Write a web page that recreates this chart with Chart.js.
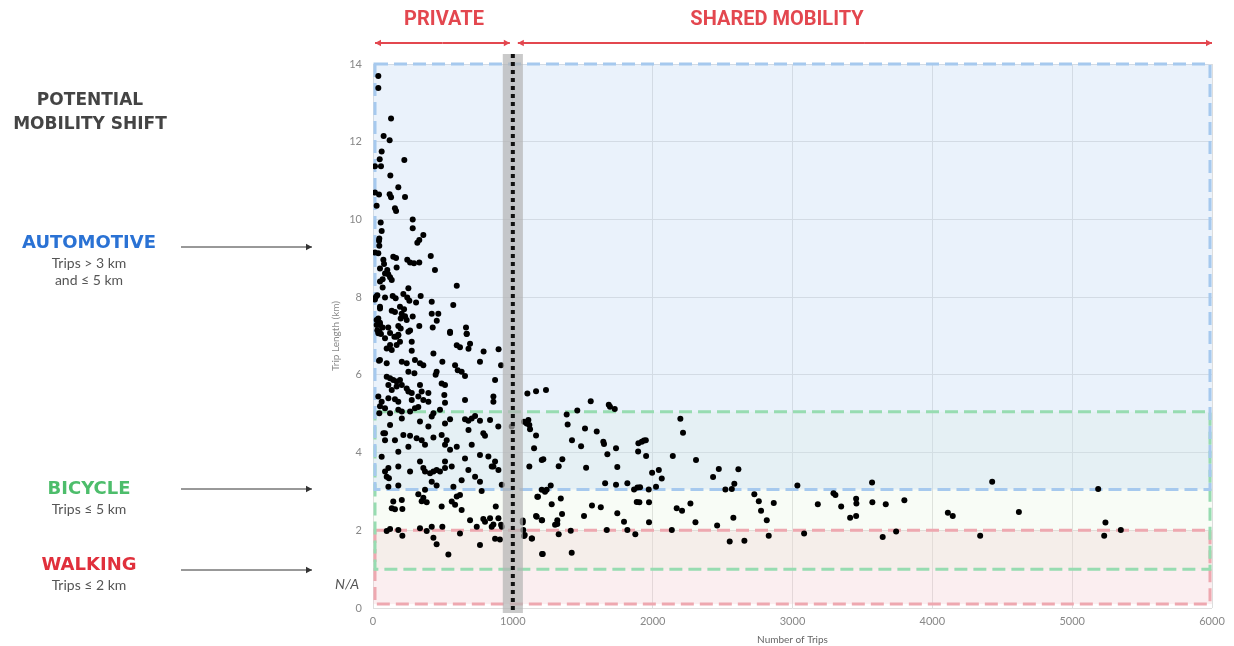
<!DOCTYPE html>
<html lang="en">
<head>
    <meta charset="UTF-8">
    <title>Potential Mobility Shift</title>
    <script src="https://cdn.jsdelivr.net/npm/chart.js"></script>
    <style>
        body {
            margin: 0;
            background: #fff;
        }
        #wrap {
            width: 1234px;
            height: 646px;
        }
    </style>
</head>
<body>
    <div id="wrap"><canvas id="shiftChart" width="1234" height="646"></canvas></div>

    <script>
        // [number of trips, trip length km]
        const longTrips = [
            [38,13.69],[38,13.38],[129,12.60],[76,12.15],[119,12.04],[62,11.75],[48,11.55],[224,11.53],
            [14,11.37],[57,11.37],[124,11.13],[181,10.83],[14,10.69],[43,10.64],[119,10.65],[129,10.57],
            [229,10.58],[26,10.35],[157,10.29],[165,10.22],[55,9.92],[284,10.00],[62,9.70],[45,9.51],
            [43,9.45],[284,9.77],[360,9.60],[331,9.47],[317,9.40],[45,9.32],[14,9.15],[38,9.13],
            [145,9.04],[165,9.01],[413,9.06],[245,8.96],[265,8.89],[293,8.87],[331,8.89],[74,8.96],
            [79,8.85],[50,8.74],[102,8.70],[86,8.61],[109,8.59],[169,8.76],[443,8.70],[69,8.46],
            [122,8.51],[50,8.40],[599,8.29],[134,8.44],[69,8.25],[253,8.23],[21,8.01],[14,7.94],
            [31,8.05],[86,7.99],[141,8.03],[162,7.97],[217,8.08],[245,7.99],[260,7.91],[341,8.03],
            [308,7.86],[420,7.88],[574,7.80],[50,7.71],[134,7.65],[157,7.62],[193,7.75],[222,7.69],
            [205,7.57],[229,7.51],[198,7.45],[284,7.50],[241,7.41],[420,7.57],[467,7.57],[456,7.39],
            [38,7.45],[50,7.34],[26,7.28],[69,7.22],[31,7.15],[109,7.22],[181,7.26],[198,7.19],
            [331,7.26],[427,7.22],[551,7.11],[665,7.22],[670,7.05],[265,7.14],[181,7.03],[169,6.98],
            [50,7.75],[26,7.41],[50,7.28],[45,7.11],[38,7.07]
        ];

        const mediumTrips = [
            [57,7.05],[86,6.94],[122,7.08],[153,6.98],[181,7.02],[193,6.85],[169,6.77],[122,6.77],
            [98,6.68],[134,6.64],[277,6.85],[253,7.11],[551,7.08],[670,7.06],[694,6.80],[622,6.71],
            [599,6.76],[683,6.67],[791,6.60],[898,6.66],[432,6.55],[277,6.62],
            [43,6.36],[98,6.30],[206,6.34],[241,6.30],[300,6.38],[336,6.30],[360,6.25],[253,6.08],
            [296,6.04],[496,6.34],[455,6.08],[448,6.00],[587,6.25],[606,6.12],[634,6.08],[658,5.97],
            [765,6.34],[916,6.25],[873,5.87],[50,6.38],
            [98,5.95],[122,5.91],[145,5.87],[169,5.83],[193,5.87],[206,5.74],[110,5.74],[134,5.61],
            [169,5.70],[241,5.65],[253,5.57],[277,5.53],[336,5.74],[348,5.57],[396,5.53],[324,5.44],
            [277,5.35],[360,5.35],[396,5.31],[491,5.78],[515,5.74],[510,5.48],[515,5.28],[658,5.35],
            [861,5.44],[861,5.31],[62,5.31],[110,5.40],[157,5.37],[181,5.31],[38,5.44],[50,5.19],
            [86,5.14],[122,5.01],[181,5.10],[206,5.06],[265,5.06],[300,5.14],[324,5.17],[432,5.01],
            [420,4.93],[479,5.10],[551,4.86],[658,4.86],[682,4.82],[706,4.88],[730,4.94],[765,4.82],
            [837,4.84],[896,4.67],[992,4.67],[122,4.71],[206,4.88],[336,4.80],[396,4.67],[515,4.75],
            [45,5.01]
        ];

        const shortTrips = [
            [86,4.50],[157,4.32],[217,4.45],[265,4.43],[312,4.37],[253,4.15],[181,4.02],[348,4.32],
            [372,4.20],[432,4.39],[491,4.45],[527,4.32],[515,4.20],[551,4.07],[599,4.15],[683,4.58],
            [706,4.20],[789,4.50],[801,4.43],[765,3.94],[825,3.90],[873,3.77],[658,3.85],[515,3.77],
            [336,3.77],[181,3.64],[110,3.60],[861,3.64],[74,4.50],[86,4.32],[62,3.89],
            [86,3.51],[114,3.34],[265,3.51],[360,3.60],[372,3.51],[408,3.47],[432,3.51],[455,3.55],
            [479,3.51],[515,3.60],[563,3.64],[682,3.55],[730,3.38],[765,3.25],[634,3.29],[420,3.25],
            [455,3.15],[575,3.12],[777,3.01],[921,3.17],[897,3.55],[849,3.64],[181,3.15],[372,3.04],
            [98,3.38],[110,3.12],
            [145,2.74],[206,2.78],[157,2.54],[210,2.55],[324,2.93],[360,2.84],[384,2.72],[348,2.75],
            [491,2.61],[563,2.74],[599,2.87],[622,2.91],[587,2.66],[634,2.52],[878,2.61],[694,2.26],
            [789,2.29],[801,2.22],[837,2.31],[861,2.15],[897,2.31],[916,2.14],[873,1.78],[908,1.76],
            [134,2.57],
            [98,1.98],[122,2.03],[181,2.01],[210,1.86],[336,2.05],[384,1.98],[420,2.09],[496,2.09],
            [622,1.92],[742,2.09],[432,1.81],[455,1.64],[765,1.62],[539,1.38],[849,2.09],[921,2.09]
        ];

        const sharedTrips = [
            [1104,5.52],[1166,5.58],[1237,5.61],[1080,4.79],[1099,4.75],[1111,4.84],[1123,4.60],
            [1118,4.71],[1166,4.44],[1152,4.11],[1207,3.81],[1118,3.64],[1207,3.04],[1230,2.99],
            [1242,3.04],[1271,3.15],[1175,2.86],[1278,2.67],[1166,2.37],[1207,2.26],[1318,2.26],
            [1302,2.14],[1318,2.16],[1071,2.20],[1080,1.85],[1137,1.79],[1214,1.39],[1328,1.90],
            [1352,2.42],[1343,2.82],[1328,3.65],[1354,3.83],[1385,4.98],[1392,4.72],[1461,5.08],
            [1423,4.32],[1488,4.16],[1516,4.62],[1524,3.61],[1509,2.37],[1421,1.42],[1414,1.99],
            [1557,5.32],[1600,4.54],[1566,2.64],[1629,2.59],[1647,4.28],[1652,4.22],[1676,3.96],
            [1686,5.23],[1695,5.18],[1729,5.12],[1738,4.11],[1747,3.63],[1660,3.21],[1738,3.17],
            [1747,2.44],[1795,2.22],[1672,2.01],[1819,3.21],[1819,2.01],[1876,1.90],[1867,3.05],
            [1891,3.10],[1910,3.11],[1886,2.73],[1905,2.72],[1896,4.03],[1898,4.24],[1922,4.28],
            [1938,4.31],[1951,4.32],[1953,3.91],[1972,3.05],[1974,2.72],[1974,2.21],[1996,3.48],
            [2044,3.55],[2065,3.33],[2024,3.12],[2144,3.91],[2137,2.01],[2172,2.57],[2210,2.50],
            [2198,4.87],[2217,4.51],[2270,2.69],[2306,2.21],[2310,3.81],[2432,3.37],[2473,3.58],
            [2461,2.12],[2520,3.05],[2566,3.06],[2584,3.20],[2613,3.57],[2577,2.32],[2551,1.71],
            [2656,1.73],[2727,2.93],[2759,2.75],[2775,2.50],[2816,2.26],[2830,1.86],[2866,2.70],
            [3035,3.15],[3083,1.92],[3181,2.67],[3293,2.95],[3307,2.91],[3348,2.61],[3412,2.32],
            [3455,2.37],[3455,2.81],[3457,2.69],[3569,3.23],[3571,2.72],[3667,2.67],[3645,1.83],
            [3741,1.97],[3800,2.77],[4111,2.45],[4146,2.37],[4342,1.86],[4428,3.25],[4619,2.47],
            [5186,3.06],[5238,2.20],[5229,1.86],[5348,2.01],[1071,2.25],[1075,2.01],[1085,1.88],
            [1135,1.79],[1171,2.35],[1209,2.26],[1209,1.39],[1180,2.86],[1218,3.83]
        ];

        // zones: [from km, to km]
        const zoneNames = ['AUTOMOTIVE', 'BICYCLE', 'WALKING'];
        const zoneFrom = [3.05, 1.0, 0.1];
        const zoneTo = [14, 5.05, 2.0];
        const tripsMin = 0;
        const tripsMax = 6000;
        const privateLimit = 1000;

        const xTicks = [0, 1000, 2000, 3000, 4000, 5000, 6000];
        const yTicks = [0, 2, 4, 6, 8, 10, 12, 14];

        const toPoints = arr => arr.map(p => ({ x: p[0], y: p[1] }));

        const zoneFill = ['rgba(190,214,242,0.32)', 'rgba(222,240,214,0.22)', 'rgba(242,200,204,0.3)'];
        const zoneStroke = ['#a6c9ee', '#97dcb1', '#eea8b0'];

        function arrow(ctx, x1, y1, x2, y2, color, width, head) {
            ctx.save();
            ctx.strokeStyle = color;
            ctx.fillStyle = color;
            ctx.lineWidth = width;
            ctx.beginPath();
            ctx.moveTo(x1, y1);
            ctx.lineTo(x2, y2);
            ctx.stroke();
            const dir = x2 > x1 ? 1 : -1;
            ctx.beginPath();
            ctx.moveTo(x2, y2);
            ctx.lineTo(x2 - dir * head, y2 - head * 0.55);
            ctx.lineTo(x2 - dir * head, y2 + head * 0.55);
            ctx.closePath();
            ctx.fill();
            ctx.restore();
        }

        const zonePlugin = {
            id: 'zones',
            beforeDatasetsDraw(chart) {
                const { ctx, scales: { x, y } } = chart;
                const left = x.getPixelForValue(tripsMin);
                const right = x.getPixelForValue(tripsMax);
                ctx.save();
                // fills: walking, bicycle, then automotive on top
                for (let i = zoneNames.length - 1; i >= 0; i--) {
                    const top = y.getPixelForValue(zoneTo[i]);
                    const bottom = y.getPixelForValue(zoneFrom[i]);
                    ctx.fillStyle = zoneFill[i];
                    ctx.fillRect(left, top, right - left, bottom - top);
                }
                ctx.lineWidth = 3;
                ctx.setLineDash([13, 6]);
                for (let i = zoneNames.length - 1; i >= 0; i--) {
                    const top = y.getPixelForValue(zoneTo[i]);
                    const bottom = y.getPixelForValue(zoneFrom[i]);
                    ctx.strokeStyle = zoneStroke[i];
                    ctx.strokeRect(left + 2, top, right - left - 4, bottom - top);
                }
                ctx.restore();
            },
            afterDatasetsDraw(chart) {
                const { ctx, scales: { x, y } } = chart;
                const cx = x.getPixelForValue(privateLimit);
                const bandL = x.getPixelForValue(privateLimit - 72);
                const bandR = x.getPixelForValue(privateLimit + 72);
                const top = y.getPixelForValue(14) - 10;
                const bottom = y.getPixelForValue(0) + 5;
                ctx.save();
                ctx.fillStyle = 'rgba(180,180,180,0.7)';
                ctx.fillRect(bandL, top, bandR - bandL, bottom - top);
                ctx.strokeStyle = '#111';
                ctx.lineWidth = 4;
                ctx.setLineDash([4, 4]);
                ctx.beginPath();
                ctx.moveTo(cx, top);
                ctx.lineTo(cx, bottom);
                ctx.stroke();
                ctx.restore();
            },
            afterDraw(chart) {
                const { ctx, scales: { x, y } } = chart;
                const red = '#e3474f';
                ctx.save();
                // header
                const ay = chart.chartArea.top - 21;
                const x0 = x.getPixelForValue(tripsMin) + 2;
                const xp = x.getPixelForValue(privateLimit) - 3;
                const xs = x.getPixelForValue(privateLimit) + 5;
                const x6 = x.getPixelForValue(tripsMax);
                arrow(ctx, (x0 + xp) / 2, ay, xp, ay, red, 2, 6);
                arrow(ctx, (x0 + xp) / 2, ay, x0, ay, red, 2, 6);
                arrow(ctx, (xs + x6) / 2, ay, x6, ay, red, 2, 6);
                arrow(ctx, (xs + x6) / 2, ay, xs, ay, red, 2, 6);
                ctx.fillStyle = red;
                ctx.textAlign = 'center';
                ctx.textBaseline = 'middle';
                ctx.font = 'bold 20px "Roboto", sans-serif';
                ctx.fillText('PRIVATE', 444, 20);
                ctx.fillText('SHARED MOBILITY', 777, 20);

                // left legend
                ctx.fillStyle = '#444';
                ctx.font = 'bold 17px "DejaVu Sans", sans-serif';
                ctx.fillText('POTENTIAL', 90, 101);
                ctx.fillText('MOBILITY SHIFT', 90, 125);

                const heads = [
                    { color: '#2a72d4', ty: 243, lines: ['Trips > 3 km', 'and \u2264 5 km'], ay: 247 },
                    { color: '#4dbd6b', ty: 489, lines: ['Trips \u2264 5 km'], ay: 489 },
                    { color: '#e0303c', ty: 565, lines: ['Trips \u2264 2 km'], ay: 570 }
                ];
                heads.forEach((h, i) => {
                    ctx.fillStyle = h.color;
                    ctx.font = 'bold 18px "DejaVu Sans", sans-serif';
                    ctx.fillText(zoneNames[i], 89, h.ty);
                    ctx.fillStyle = '#555';
                    ctx.font = '14px "Lato", sans-serif';
                    h.lines.forEach((t, j) => ctx.fillText(t, 89, h.ty + 20 + j * 17));
                    arrow(ctx, 181, h.ay, 312, h.ay, '#333', 1, 6);
                });

                ctx.fillStyle = '#555';
                ctx.font = 'italic 14px "Lato", sans-serif';
                ctx.fillText('N/A', 347, y.getPixelForValue(0.6));
                ctx.restore();
            }
        };

        const ctx = document.getElementById('shiftChart').getContext('2d');
        const pointStyle = {
            backgroundColor: '#000',
            borderColor: '#000',
            pointRadius: 3,
            pointHoverRadius: 3,
            borderWidth: 0
        };

        const shiftChart = new Chart(ctx, {
            type: 'scatter',
            data: {
                datasets: [
                    Object.assign({ label: 'long', data: toPoints(longTrips) }, pointStyle),
                    Object.assign({ label: 'medium', data: toPoints(mediumTrips) }, pointStyle),
                    Object.assign({ label: 'short', data: toPoints(shortTrips) }, pointStyle),
                    Object.assign({ label: 'shared', data: toPoints(sharedTrips) }, pointStyle)
                ]
            },
            options: {
                responsive: false,
                animation: false,
                layout: {
                    padding: { left: 330, right: 22, top: 64, bottom: 0 }
                },
                plugins: {
                    legend: { display: false },
                    tooltip: { enabled: false }
                },
                scales: {
                    x: {
                        type: 'linear',
                        min: tripsMin,
                        max: tripsMax,
                        afterBuildTicks: s => { s.ticks = xTicks.map(v => ({ value: v })); },
                        afterFit: s => { s.height = 38; },
                        border: { display: false },
                        grid: { color: '#dedede', drawTicks: false },
                        ticks: {
                            color: '#888',
                            padding: 7,
                            callback: v => String(v),
                            font: { family: 'Lato', size: 11 }
                        },
                        title: {
                            display: true,
                            text: 'Number of Trips',
                            color: '#666',
                            padding: { top: 0, bottom: 0 },
                            font: { family: 'Lato', size: 10 }
                        }
                    },
                    y: {
                        type: 'linear',
                        min: 0,
                        max: 14,
                        afterBuildTicks: s => { s.ticks = yTicks.map(v => ({ value: v })); },
                        afterFit: s => { s.width = 43; },
                        border: { display: false },
                        grid: { color: '#dedede', drawTicks: false },
                        ticks: {
                            color: '#888',
                            padding: 11,
                            callback: v => String(v),
                            font: { family: 'Lato', size: 11 }
                        },
                        title: {
                            display: true,
                            text: 'Trip Length (km)',
                            color: '#888',
                            padding: { top: 0, bottom: 0 },
                            font: { family: 'Lato', size: 10 }
                        }
                    }
                }
            },
            plugins: [zonePlugin]
        });
    </script>
</body>
</html>
